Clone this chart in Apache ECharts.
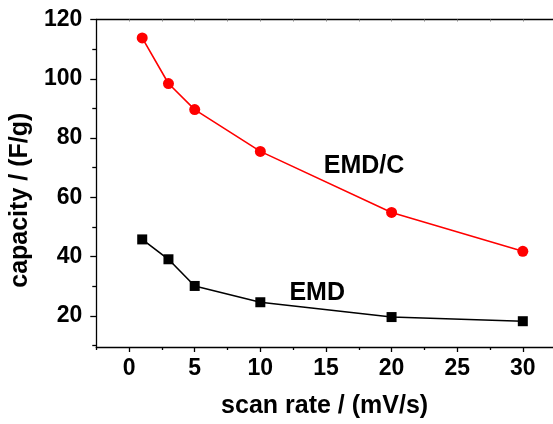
<!DOCTYPE html>
<html>
<head>
<meta charset="utf-8">
<script src="https://cdn.jsdelivr.net/npm/echarts@6/dist/echarts.min.js"></script>
<style>html,body{margin:0;padding:0;background:#fff;}#c{width:553px;height:424px;}</style>
</head>
<body>
<div id="c"></div>
<script>
const scanRate = [1, 3, 5, 10, 20, 30];
const capEMDC = [113.8, 98.4, 89.6, 75.5, 54.9, 41.8];
const capEMD = [45.8, 39.1, 30.1, 24.6, 19.6, 18.2];
const xMajorTicks = [0, 5, 10, 15, 20, 25, 30];
const xMinorTicks = [-2.5, 2.5, 7.5, 12.5, 17.5, 22.5, 27.5, 32.5];
const xTopTicks = [0, 2.5, 5, 7.5, 10, 12.5, 15, 17.5, 20, 22.5, 25, 27.5, 30, 32.5];
const yMajorTicks = [20, 40, 60, 80, 100, 120];
const yMinorTicks = [10, 30, 50, 70, 90, 110];
const annotations = [
  {text: 'EMD/C', x: 17.9, y: 70.5},
  {text: 'EMD', x: 14.33, y: 27.8}
];

const FONT = 'Liberation Sans, Arial, sans-serif';
const xMin = -2.5, xMax = 32.3, yMin = 9.5, yMax = 120;

const chart = echarts.init(document.getElementById('c'), null, {renderer: 'canvas'});
const lineStyleAxis = {color: '#000', width: 1.3};

chart.setOption({
  animation: false,
  backgroundColor: '#fff',
  grid: {left: 96, top: 19.5, right: 0, bottom: 76.5, containLabel: false},
  xAxis: [
    {
      type: 'value', min: xMin, max: xMax, position: 'bottom',
      axisLine: {show: true, onZero: false, lineStyle: lineStyleAxis},
      axisTick: {show: true, inside: false, length: 5, customValues: xMajorTicks, lineStyle: lineStyleAxis},
      axisLabel: {show: true, customValues: xMajorTicks, fontSize: 23, fontWeight: 'bold', fontFamily: FONT, color: '#000', margin: 10},
      splitLine: {show: false},
      name: 'scan rate / (mV/s)', nameLocation: 'middle', nameGap: 47,
      nameTextStyle: {fontSize: 25, fontWeight: 'bold', fontFamily: FONT, color: '#000'}
    },
    {
      type: 'value', min: xMin, max: xMax, position: 'bottom',
      axisLine: {show: false, onZero: false},
      axisTick: {show: true, inside: false, length: 3, customValues: xMinorTicks, lineStyle: lineStyleAxis},
      axisLabel: {show: false},
      splitLine: {show: false}
    },
    {
      type: 'value', min: xMin, max: xMax, position: 'top',
      axisLine: {show: true, onZero: false, lineStyle: lineStyleAxis},
      axisTick: {show: true, inside: true, length: 2, customValues: xTopTicks, lineStyle: {color: '#888', width: 1}},
      axisLabel: {show: false},
      splitLine: {show: false}
    }
  ],
  yAxis: [
    {
      type: 'value', min: yMin, max: yMax, position: 'left',
      axisLine: {show: true, onZero: false, lineStyle: lineStyleAxis},
      axisTick: {show: true, inside: false, length: 6, customValues: yMajorTicks, lineStyle: lineStyleAxis},
      axisLabel: {show: true, customValues: yMajorTicks, fontSize: 23, fontWeight: 'bold', fontFamily: FONT, color: '#000', margin: 14},
      splitLine: {show: false},
      name: 'capacity / (F/g)', nameLocation: 'middle', nameGap: 61,
      nameTextStyle: {fontSize: 25, fontWeight: 'bold', fontFamily: FONT, color: '#000', padding: [0, 34, 0, 0]}
    },
    {
      type: 'value', min: yMin, max: yMax, position: 'left',
      axisLine: {show: false, onZero: false},
      axisTick: {show: true, inside: false, length: 4, customValues: yMinorTicks, lineStyle: lineStyleAxis},
      axisLabel: {show: false},
      splitLine: {show: false}
    }
  ],
  series: [
    {
      name: 'EMD/C', type: 'line', xAxisIndex: 0, yAxisIndex: 0,
      data: scanRate.map((x, i) => [x, capEMDC[i]]),
      symbol: 'circle', symbolSize: 11,
      itemStyle: {color: '#ff0000'},
      lineStyle: {color: '#ff0000', width: 1.6},
      z: 3
    },
    {
      name: 'EMD', type: 'line', xAxisIndex: 0, yAxisIndex: 0,
      data: scanRate.map((x, i) => [x, capEMD[i]]),
      symbol: 'rect', symbolSize: 10,
      itemStyle: {color: '#000'},
      lineStyle: {color: '#000', width: 1.6},
      z: 3
    },
    {
      type: 'scatter', xAxisIndex: 0, yAxisIndex: 0,
      data: annotations.map(a => ({value: [a.x, a.y], label: {formatter: a.text}})),
      symbolSize: 0,
      silent: true,
      itemStyle: {color: '#000', opacity: 1},
      label: {show: true, position: 'inside', fontSize: 25, fontWeight: 'bold', fontFamily: FONT, color: '#000', textBorderWidth: 0, opacity: 1},
      z: 4
    }
  ]
});
</script>
</body>
</html>
